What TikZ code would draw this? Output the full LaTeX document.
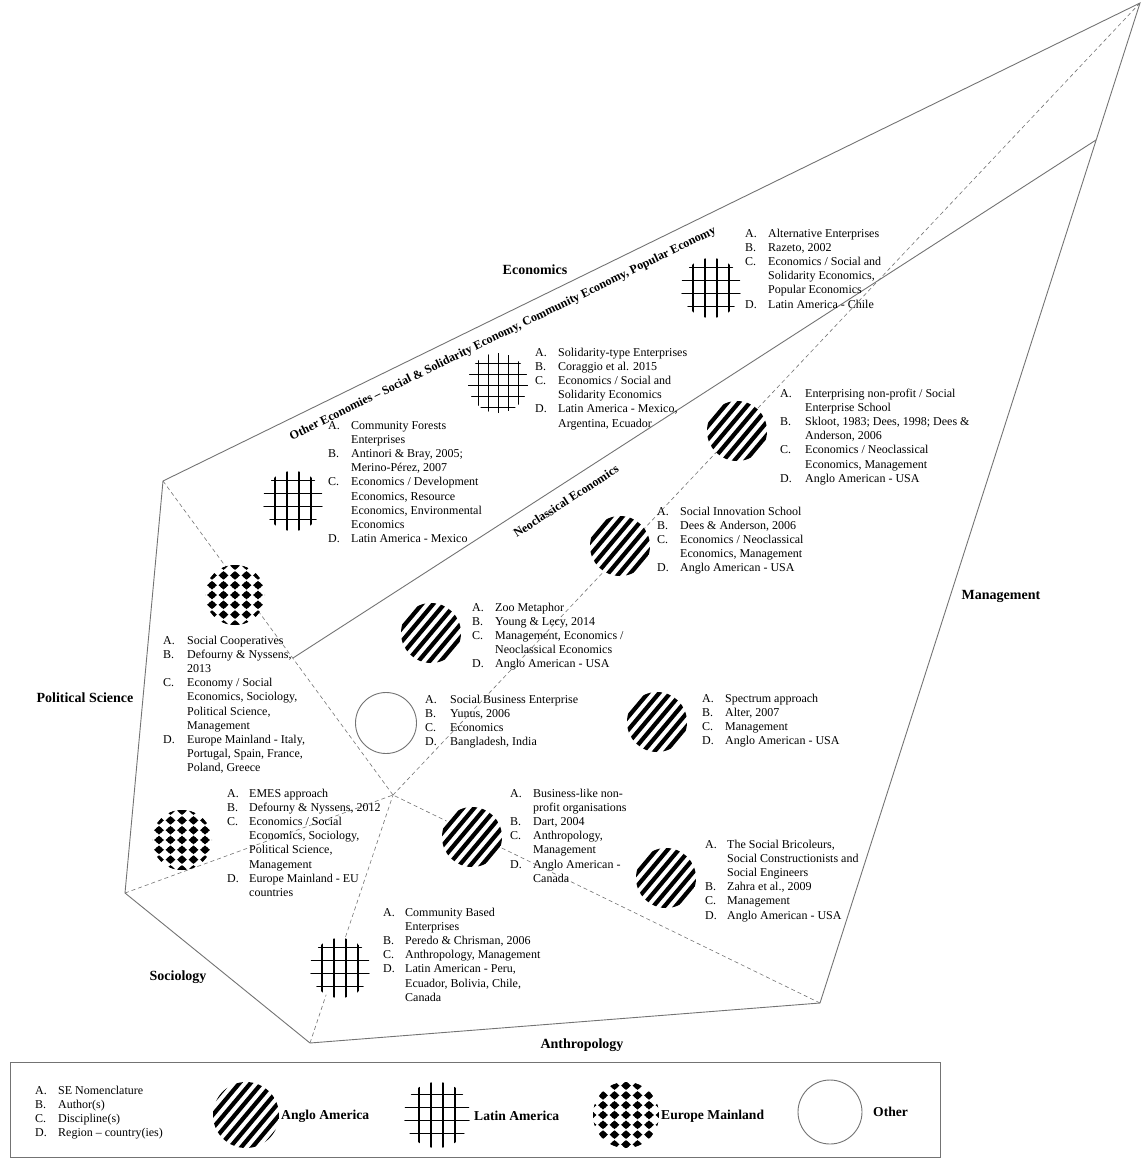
\documentclass[tikz,border=0pt]{standalone}
\usepackage{fontspec}
\setmainfont{Liberation Serif}
\usetikzlibrary{calc}
\begin{document}
\begin{tikzpicture}[x=1pt,y=-1pt,
  edge/.style={draw=black!55, line width=0.9pt},
  divider/.style={draw=black!55, line width=0.6pt, dash pattern=on 4pt off 3pt},
  blk/.style={anchor=north west, inner sep=0pt, align=left, font=\fontsize{12}{14.2}\selectfont},
  area/.style={font=\fontsize{14}{16}\selectfont\bfseries, inner sep=0pt},
  keylabel/.style={anchor=west, inner sep=0pt, font=\fontsize{13.6}{16}\selectfont\bfseries},
  axislabel/.style={font=\fontsize{12.2}{15}\selectfont\bfseries, inner sep=0pt},
  anglo/.style={circle, minimum size=#1, inner sep=0pt, fill=white, path picture={
      \coordinate (pc) at (path picture bounding box.center);
      \foreach \k in {-6,...,6}
        \draw[black, line width=4.2pt] ($(pc)+(\k*11.1-32.1,38.3)$) -- ++(64.3,-76.6);}},
  anglo/.default=60pt,
  latin/.style={circle, minimum size=#1, inner sep=0pt, fill=white, path picture={
      \coordinate (pc) at (path picture bounding box.center);
      \foreach \k in {-18,-6,6,18}
        \draw[black, line width=2pt] ($(pc)+(\k,-40)$) -- ++(0,80);
      \foreach \k in {-21,-8,5,18}
        \draw[black, line width=1pt] ($(pc)+(-40,\k)$) -- ++(80,0);}},
  latin/.default=60pt,
  latinthin/.style={circle, minimum size=#1, inner sep=0pt, fill=white, path picture={
      \coordinate (pc) at (path picture bounding box.center);
      \foreach \k in {-20,-10,0,10,20}
        \draw[black, line width=0.8pt] ($(pc)+(\k,-40)$) -- ++(0,80);
      \foreach \k in {-20,-9,2,13,24}
        \draw[black, line width=0.8pt] ($(pc)+(-40,\k)$) -- ++(80,0);}},
  latinthin/.default=60pt,
  europe/.style={circle, minimum size=#1, inner sep=0pt, fill=white, path picture={
      \coordinate (pc) at (path picture bounding box.center);
      \foreach \i in {-3,...,3}
        \foreach \j in {-4,...,4}{
          \fill[black] ($(pc)+(\i*11.5,\j*9.8)$) ++(-4.9,0) -- ++(4.9,-4.3) -- ++(4.9,4.3) -- ++(-4.9,4.3) -- cycle;
          \fill[black] ($(pc)+(\i*11.5,\j*9.8)$) circle (3.4pt);}}},
  europe/.default=60pt,
  other/.style={circle, minimum size=#1, inner sep=0pt, fill=white, draw=black!55, line width=0.9pt},
  other/.default=61pt
]
\useasboundingbox (0,0) rectangle (1143,1162);

% corners of the discipline map and the common centre
\coordinate (A)  at (1140,3);
\coordinate (P1) at (163,481);
\coordinate (P2) at (125,893);
\coordinate (P3) at (310,1043);
\coordinate (P4) at (820,1003);
\coordinate (C)  at (393,795);
\coordinate (N1) at (293,658);
\coordinate (N2) at (1096,140);

% outline and inner boundaries
\draw[edge] (P1) -- (A) -- (P4) -- (P3) -- (P2) -- cycle;
\draw[edge] (N1) -- (N2);
\draw[divider] (A) -- (C);
\draw[divider] (P1) -- (C);
\draw[divider] (P2) -- (C);
\draw[divider] (P3) -- (C);
\draw[divider] (P4) -- (C);

% discipline names
\node[area] (econ) at (535,270) {Economics};
\node[area] (polsci) at (85,698) {Political Science};
\node[area] (socio) at (178,977) {Sociology};
\node[area] (anthro) at (582,1045) {Anthropology};
\node[area] (mgmt) at (1001,596) {Management};
\node[axislabel, rotate=26] (other) at (503,334) {Other Economies -- Social \& Solidarity Economy, Community Economy, Popular Economy};
\node[axislabel, rotate=33] (neo) at (566,501) {Neoclassical Economics};

% schools of thought
\node[latin] (c1) at (711,288) {};
\node[blk] (t1) at (745,227) {\begin{tabular}{@{}p{23pt}@{}l@{}}
A. & Alternative Enterprises\\
B. & Razeto, 2002\\
C. & Economics / Social and\\
   & Solidarity Economics,\\
   & Popular Economics\\
D. & Latin America - Chile
\end{tabular}};

\node[latinthin] (c2) at (498,383) {};
\node[blk] (t2) at (535,346) {\begin{tabular}{@{}p{23pt}@{}l@{}}
A. & Solidarity-type Enterprises\\
B. & Coraggio et al. 2015\\
C. & Economics / Social and\\
   & Solidarity Economics\\
D. & Latin America - Mexico,\\
   & Argentina, Ecuador
\end{tabular}};

\node[latin] (c3) at (293,501) {};
\node[blk] (t3) at (328,419) {\begin{tabular}{@{}p{23pt}@{}l@{}}
A. & Community Forests\\
   & Enterprises\\
B. & Antinori \& Bray, 2005;\\
   & Merino-Pérez, 2007\\
C. & Economics / Development\\
   & Economics, Resource\\
   & Economics, Environmental\\
   & Economics\\
D. & Latin America - Mexico
\end{tabular}};

\node[anglo] (c4) at (737,431) {};
\node[blk] (t4) at (780,387) {\begin{tabular}{@{}p{25pt}@{}l@{}}
A. & Enterprising non-profit / Social\\
   & Enterprise School\\
B. & Skloot, 1983; Dees, 1998; Dees \&\\
   & Anderson, 2006\\
C. & Economics / Neoclassical\\
   & Economics, Management\\
D. & Anglo American - USA
\end{tabular}};

\node[anglo] (c5) at (620,546) {};
\node[blk] (t5) at (657,505) {\begin{tabular}{@{}p{23pt}@{}l@{}}
A. & Social Innovation School\\
B. & Dees \& Anderson, 2006\\
C. & Economics / Neoclassical\\
   & Economics, Management\\
D. & Anglo American - USA
\end{tabular}};

\node[europe] (c6) at (235,595) {};
\node[blk] (t6) at (163,634) {\begin{tabular}{@{}p{24pt}@{}l@{}}
A. & Social Cooperatives\\
B. & Defourny \& Nyssens,\\
   & 2013\\
C. & Economy / Social\\
   & Economics, Sociology,\\
   & Political Science,\\
   & Management\\
D. & Europe Mainland - Italy,\\
   & Portugal, Spain, France,\\
   & Poland, Greece
\end{tabular}};

\node[anglo] (c7) at (431,633) {};
\node[blk] (t7) at (472,601) {\begin{tabular}{@{}p{23pt}@{}l@{}}
A. & Zoo Metaphor\\
B. & Young \& Lecy, 2014\\
C. & Management, Economics /\\
   & Neoclassical Economics\\
D. & Anglo American - USA
\end{tabular}};

\node[other] (c8) at (386,723) {};
\node[blk] (t8) at (425,693) {\begin{tabular}{@{}p{25pt}@{}l@{}}
A. & Social Business Enterprise\\
B. & Yunus, 2006\\
C. & Economics\\
D. & Bangladesh, India
\end{tabular}};

\node[anglo] (c9) at (657,722) {};
\node[blk] (t9) at (702,692) {\begin{tabular}{@{}p{23pt}@{}l@{}}
A. & Spectrum approach\\
B. & Alter, 2007\\
C. & Management\\
D. & Anglo American - USA
\end{tabular}};

\node[europe] (c10) at (182,840) {};
\node[blk] (t10) at (227,787) {\begin{tabular}{@{}p{22pt}@{}l@{}}
A. & EMES approach\\
B. & Defourny \& Nyssens, 2012\\
C. & Economics / Social\\
   & Economics, Sociology,\\
   & Political Science,\\
   & Management\\
D. & Europe Mainland - EU\\
   & countries
\end{tabular}};

\node[anglo] (c11) at (472,837) {};
\node[blk] (t11) at (510,787) {\begin{tabular}{@{}p{23pt}@{}l@{}}
A. & Business-like non-\\
   & profit organisations\\
B. & Dart, 2004\\
C. & Anthropology,\\
   & Management\\
D. & Anglo American -\\
   & Canada
\end{tabular}};

\node[anglo] (c12) at (666,878) {};
\node[blk] (t12) at (705,838) {\begin{tabular}{@{}p{22pt}@{}l@{}}
A. & The Social Bricoleurs,\\
   & Social Constructionists and\\
   & Social Engineers\\
B. & Zahra et al., 2009\\
C. & Management\\
D. & Anglo American - USA
\end{tabular}};

\node[latin] (c13) at (340,968) {};
\node[blk] (t13) at (383,906) {\begin{tabular}{@{}p{22pt}@{}l@{}}
A. & Community Based\\
   & Enterprises\\
B. & Peredo \& Chrisman, 2006\\
C. & Anthropology, Management\\
D. & Latin American - Peru,\\
   & Ecuador, Bolivia, Chile,\\
   & Canada
\end{tabular}};

% key
\node[draw=black!55, line width=0.9pt, anchor=north west, minimum width=930pt, minimum height=95pt, inner sep=0pt] (legend) at (10,1062) {};
\node[blk] (keytext) at (35,1084) {\begin{tabular}{@{}p{23pt}@{}l@{}}
A. & SE Nomenclature\\
B. & Author(s)\\
C. & Discipline(s)\\
D. & Region -- country(ies)
\end{tabular}};
\node[anglo=66pt] (k1) at (246,1115) {};
\node[keylabel] (k1t) at (281,1116) {Anglo America};
\node[latin=66pt] (k2) at (437,1115) {};
\node[keylabel] (k2t) at (474,1116) {Latin America};
\node[europe=66pt] (k3) at (626,1115) {};
\node[keylabel] (k3t) at (661,1116) {Europe Mainland};
\node[other=64pt] (k4) at (830,1112) {};
\node[keylabel] (k4t) at (873,1112) {Other};
\end{tikzpicture}
\end{document}
